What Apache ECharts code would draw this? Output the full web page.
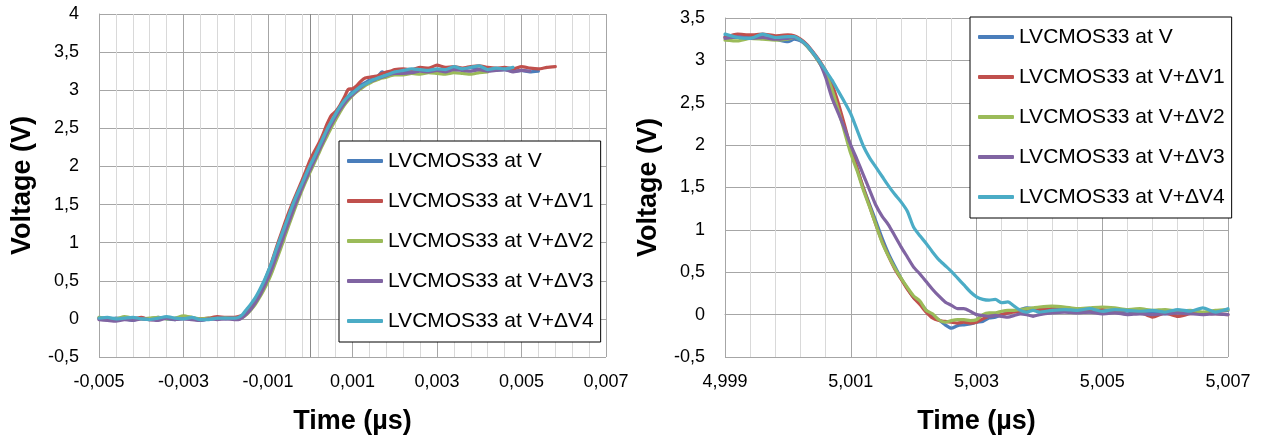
<!DOCTYPE html>
<html>
<head>
<meta charset="utf-8">
<script src="https://cdn.jsdelivr.net/npm/echarts@6/dist/echarts.min.js"></script>
<style>
  html, body { margin: 0; padding: 0; background: #fff; }
  #main { width: 1263px; height: 440px; }
</style>
</head>
<body>
<div id="main"></div>
<script>
// series names
var names = ['LVCMOS33 at V', 'LVCMOS33 at V+ΔV1', 'LVCMOS33 at V+ΔV2', 'LVCMOS33 at V+ΔV3', 'LVCMOS33 at V+ΔV4'];
var colors = ['#4A7EBB', '#C0504D', '#9BBB59', '#8064A2', '#4BACC6'];

// left chart: rising edge, time in µs
var leftTime = [
  -0.005, -0.0048, -0.0046, -0.0044, -0.0042, -0.004, -0.0038, -0.0036, -0.0034, -0.0032, -0.003, -0.0028, -0.0026, -0.0024, -0.0022, -0.002, -0.0018,
  -0.0017, -0.0016, -0.0015, -0.0014, -0.0013, -0.0012, -0.0011, -0.001, -0.0009, -0.0008, -0.0007, -0.0006, -0.0005, -0.0004, -0.0003, -0.0002, -0.0001,
  0, 0.0001, 0.0002, 0.0003, 0.0004, 0.0005, 0.0006, 0.0007, 0.0008, 0.0009, 0.001, 0.0011, 0.0012, 0.0013, 0.0014, 0.0015, 0.0016, 0.0017, 0.0018, 0.0019, 0.002,
  0.0022, 0.0024, 0.0026, 0.0028, 0.003, 0.0032, 0.0034, 0.0036, 0.0038, 0.004, 0.0042, 0.0044, 0.0046, 0.0048, 0.005, 0.0052, 0.0054, 0.0056, 0.0058
];
var leftV = [
  0.00, -0.01, 0.01, 0.00, -0.02, 0.01, 0.00, 0.02, 0.00, -0.01, 0.01, 0.00, -0.02, 0.00, 0.01, 0.00, 0.01,
  0.01, 0.04, 0.10, 0.17, 0.26, 0.36, 0.47, 0.60, 0.74, 0.89, 1.04, 1.19, 1.34, 1.49, 1.62, 1.75, 1.88,
  2.00, 2.12, 2.24, 2.36, 2.47, 2.58, 2.68, 2.77, 2.85, 2.92, 2.98, 3.03, 3.07, 3.10, 3.13, 3.15, 3.18, 3.24, 3.21, 3.23, 3.25,
  3.25, 3.26, 3.27, 3.28, 3.26, 3.29, 3.27, 3.28, 3.30, 3.27, 3.28, 3.26, 3.27, 3.25, 3.26, 3.24, 3.25
];
var leftV1 = [
  0.01, 0.00, -0.01, 0.01, 0.00, 0.02, -0.01, 0.00, 0.01, 0.00, 0.02, 0.01, 0.00, 0.01, 0.03, 0.02, 0.02,
  0.03, 0.05, 0.10, 0.17, 0.25, 0.35, 0.47, 0.61, 0.77, 0.94, 1.10, 1.26, 1.41, 1.55, 1.68, 1.81, 1.95,
  2.09, 2.20, 2.30, 2.42, 2.56, 2.67, 2.72, 2.80, 2.90, 3.01, 3.02, 3.06, 3.12, 3.16, 3.17, 3.18, 3.19, 3.22, 3.24, 3.25, 3.27,
  3.28, 3.27, 3.30, 3.29, 3.33, 3.30, 3.31, 3.29, 3.31, 3.32, 3.30, 3.29, 3.30, 3.28, 3.31, 3.29, 3.28, 3.30, 3.31
];
var leftV2 = [
  0.02, 0.01, 0.00, 0.03, 0.01, 0.00, 0.01, 0.02, 0.00, 0.01, 0.04, 0.02, 0.00, 0.01, 0.00, 0.01, 0.00,
  0.00, 0.02, 0.06, 0.12, 0.19, 0.28, 0.38, 0.49, 0.62, 0.77, 0.92, 1.08, 1.24, 1.39, 1.54, 1.68, 1.81,
  1.93, 2.05, 2.17, 2.29, 2.40, 2.51, 2.61, 2.71, 2.80, 2.87, 2.93, 2.98, 3.02, 3.06, 3.09, 3.12, 3.14, 3.16, 3.17, 3.19, 3.20,
  3.20, 3.22, 3.21, 3.23, 3.22, 3.21, 3.23, 3.22, 3.21, 3.23, 3.24
];
var leftV3 = [
  -0.01, -0.02, -0.03, -0.01, -0.02, 0.00, -0.01, -0.02, 0.01, -0.01, 0.00, -0.01, -0.02, 0.00, -0.01, 0.00, -0.01,
  -0.01, 0.02, 0.07, 0.13, 0.21, 0.30, 0.41, 0.53, 0.67, 0.82, 0.97, 1.13, 1.28, 1.43, 1.57, 1.71, 1.84,
  1.96, 2.08, 2.20, 2.32, 2.44, 2.55, 2.65, 2.74, 2.82, 2.89, 2.94, 2.99, 3.04, 3.08, 3.11, 3.13, 3.16, 3.17, 3.19, 3.21, 3.22,
  3.22, 3.23, 3.25, 3.24, 3.26, 3.24, 3.27, 3.26, 3.25, 3.27, 3.25, 3.26, 3.27, 3.24, 3.26, 3.25
];
var leftV4 = [
  0.01, 0.02, 0.00, 0.01, 0.02, 0.00, -0.01, 0.01, 0.03, 0.01, 0.00, 0.02, -0.01, -0.01, 0.01, 0.01, 0.01,
  0.02, 0.06, 0.13, 0.20, 0.28, 0.38, 0.49, 0.62, 0.76, 0.92, 1.07, 1.22, 1.37, 1.52, 1.65, 1.77, 1.90,
  2.02, 2.13, 2.25, 2.37, 2.49, 2.59, 2.69, 2.78, 2.86, 2.92, 2.96, 3.01, 3.05, 3.08, 3.11, 3.14, 3.16, 3.18, 3.20, 3.22, 3.24,
  3.26, 3.28, 3.27, 3.26, 3.28, 3.27, 3.31, 3.28, 3.30, 3.32, 3.27, 3.29, 3.28, 3.30
];

// right chart: falling edge, time in µs
var rightTime = [
  4.999, 4.9992, 4.9994, 4.9996, 4.9998, 5.0,
  5.0001, 5.0002, 5.0003, 5.0004, 5.0005, 5.0006, 5.0007, 5.0008, 5.0009, 5.0010,
  5.0011, 5.0012, 5.0013, 5.0014, 5.0015, 5.0016, 5.0017, 5.0018, 5.0019, 5.0020,
  5.0021, 5.0022, 5.0023, 5.0024, 5.0025, 5.0026, 5.0027, 5.0028, 5.0029, 5.0030,
  5.0031, 5.0032, 5.0033, 5.0034, 5.0035, 5.0036, 5.0037, 5.0038, 5.0039, 5.0040,
  5.0042, 5.0044, 5.0046, 5.0048, 5.0050, 5.0052, 5.0054, 5.0056, 5.0058, 5.0060, 5.0062, 5.0064, 5.0066, 5.0068, 5.0070
];
var rightV = [
  3.28, 3.27, 3.28, 3.27, 3.25, 3.22,
  3.25, 3.23, 3.17, 3.08, 2.98, 2.86, 2.69, 2.47, 2.21, 1.95,
  1.72, 1.50, 1.30, 1.10, 0.90, 0.72, 0.57, 0.43, 0.31, 0.20,
  0.14, 0.05, -0.01, -0.06, -0.12, -0.16, -0.13, -0.12, -0.11, -0.09,
  -0.08, -0.04, -0.03, 0.00, 0.02, 0.04, 0.06, 0.08, 0.07, 0.05,
  0.04, 0.05, 0.04, 0.03, 0.05, 0.03, 0.04, 0.02, 0.03, 0.01, 0.02, 0.03, 0.02, 0.04, 0.05
];
var rightV1 = [
  3.27, 3.31, 3.30, 3.31, 3.29, 3.30,
  3.29, 3.25, 3.19, 3.10, 3.00, 2.88, 2.72, 2.50, 2.24, 1.97,
  1.73, 1.49, 1.28, 1.06, 0.86, 0.69, 0.54, 0.42, 0.30, 0.20,
  0.12, 0.03, -0.04, -0.07, -0.08, -0.09, -0.10, -0.09, -0.10, -0.09,
  -0.05, -0.02, -0.01, 0.00, 0.02, 0.03, 0.04, 0.05, 0.05, 0.06,
  0.07, 0.08, 0.06, 0.05, 0.06, 0.04, 0.05, 0.03, -0.03, 0.02, -0.02, 0.01, 0.02, 0.01, 0.00
];
var rightV2 = [
  3.24, 3.23, 3.26, 3.25, 3.24, 3.25,
  3.27, 3.24, 3.17, 3.08, 2.97, 2.85, 2.66, 2.42, 2.16, 1.90,
  1.70, 1.47, 1.27, 1.06, 0.85, 0.69, 0.55, 0.43, 0.32, 0.22,
  0.16, 0.05, 0.01, -0.06, -0.09, -0.07, -0.06, -0.06, -0.07, -0.06,
  0.00, 0.02, 0.02, 0.04, 0.05, 0.05, 0.06, 0.07, 0.08, 0.09,
  0.10, 0.09, 0.07, 0.08, 0.09, 0.08, 0.06, 0.07, 0.05, 0.06, 0.04, 0.05, 0.03, 0.05, 0.06
];
var rightV3 = [
  3.26, 3.28, 3.26, 3.27, 3.25, 3.26,
  3.27, 3.24, 3.18, 3.09, 2.98, 2.80, 2.56, 2.38, 2.20, 2.00,
  1.83, 1.65, 1.47, 1.29, 1.16, 1.06, 0.93, 0.80, 0.68, 0.56,
  0.48, 0.39, 0.30, 0.22, 0.15, 0.11, 0.07, 0.07, 0.04, 0.00,
  -0.01, -0.02, -0.01, -0.02, -0.03, -0.01, 0.01, 0.00, -0.02, 0.00,
  0.02, 0.03, 0.02, 0.03, 0.01, 0.02, 0.00, 0.01, 0.00, 0.01, 0.02, 0.01, 0.00, 0.01, 0.00
];
var rightV4 = [
  3.31, 3.27, 3.26, 3.31, 3.27, 3.28,
  3.28, 3.24, 3.18, 3.09, 2.99, 2.88, 2.77, 2.64, 2.51, 2.37,
  2.18, 1.99, 1.85, 1.74, 1.63, 1.52, 1.42, 1.33, 1.22, 1.03,
  0.93, 0.84, 0.74, 0.65, 0.58, 0.51, 0.43, 0.35, 0.27, 0.21,
  0.18, 0.17, 0.18, 0.14, 0.15, 0.10, 0.05, 0.03, 0.05, 0.03,
  0.05, 0.06, 0.05, 0.07, 0.04, 0.06, 0.05, 0.04, 0.05, 0.03, 0.06, 0.04, 0.08, 0.03, 0.07
];

var leftT0 = -0.005;   // left axis starts here
var rightT0 = 4.999;   // right axis starts here

var leftValues = [leftV, leftV1, leftV2, leftV3, leftV4];
var rightValues = [rightV, rightV1, rightV2, rightV3, rightV4];

var fontFam = '"Liberation Sans", Arial, sans-serif';

// x axis runs in ns from the axis start, so ticks begin at min
function toPairs(time, vals, t0) {
  return vals.map(function (v, i) { return [(time[i] - t0) * 1000, v]; });
}
function xLabel(t0) {
  return function (v) { return (v / 1000 + t0).toFixed(3).replace('.', ','); };
}
function yLabel(v) { return String(v).replace('.', ','); }

function xAxisOf(idx, t0, max) {
  return {
    type: 'value', gridIndex: idx, min: 0, max: max, interval: 2,
    axisLine: { show: true, lineStyle: { color: '#a6a6a6', width: 1 } },
    axisTick: { show: false },
    axisLabel: { formatter: xLabel(t0), color: '#000', fontSize: 18, margin: 16, fontFamily: fontFam },
    splitLine: { show: true, lineStyle: { color: '#a6a6a6', width: 1 } },
    minorTick: { show: false, splitNumber: 5 },
    minorSplitLine: { show: true, lineStyle: { color: '#d9d9d9', width: 1 } },
    name: 'Time (µs)', nameLocation: 'middle', nameGap: 51,
    nameTextStyle: { color: '#000', fontSize: 27, fontWeight: 'bold', fontFamily: fontFam }
  };
}
function yAxisOf(idx, max) {
  return {
    type: 'value', gridIndex: idx, min: -0.5, max: max, interval: 0.5,
    axisLine: { show: true, lineStyle: { color: '#a6a6a6', width: 1 } },
    axisTick: { show: false },
    axisLabel: { formatter: yLabel, color: '#000', fontSize: 18, margin: 20, fontFamily: fontFam },
    splitLine: { show: true, lineStyle: { color: '#a6a6a6', width: 1 } },
    name: 'Voltage (V)', nameLocation: 'middle', nameGap: 63,
    nameTextStyle: { color: '#000', fontSize: 27, fontWeight: 'bold', fontFamily: fontFam }
  };
}
function legendOf(left, top) {
  return {
    data: names, orient: 'vertical', left: left, top: top,
    icon: 'roundRect', itemWidth: 36, itemHeight: 4, itemGap: 16,
    padding: [8, 7, 9, 8],
    backgroundColor: '#fff', borderColor: '#000', borderWidth: 1, borderRadius: 0,
    textStyle: { color: '#000', fontSize: 21, lineHeight: 24, fontFamily: fontFam },
    selectedMode: false
  };
}

var series = [];
// vertical axis line of the left chart crosses at t = 0
series.push({
  name: 'axis0', type: 'line', xAxisIndex: 0, yAxisIndex: 0, data: [], silent: true, z: 1,
  markLine: {
    silent: true, symbol: 'none', z: 1, animation: false,
    label: { show: false },
    lineStyle: { color: '#8a8a8a', type: 'solid', width: 1 },
    data: [{ xAxis: (0 - leftT0) * 1000 }]
  }
});
leftValues.forEach(function (vals, i) {
  series.push({
    name: names[i], type: 'line', xAxisIndex: 0, yAxisIndex: 0,
    data: toPairs(leftTime, vals, leftT0),
    showSymbol: false, smooth: 0.2, color: colors[i],
    lineStyle: { width: 3.2, color: colors[i], cap: 'round', join: 'round' }
  });
});
rightValues.forEach(function (vals, i) {
  series.push({
    name: names[i], type: 'line', xAxisIndex: 1, yAxisIndex: 1,
    data: toPairs(rightTime, vals, rightT0),
    showSymbol: false, smooth: 0.2, color: colors[i],
    lineStyle: { width: 3.2, color: colors[i], cap: 'round', join: 'round' }
  });
});

var chart = echarts.init(document.getElementById('main'));
chart.setOption({
  animation: false,
  backgroundColor: '#fff',
  grid: [
    { left: 99, top: 14, width: 507, height: 343 },
    { left: 725, top: 18, width: 503, height: 339 }
  ],
  xAxis: [xAxisOf(0, leftT0, 12), xAxisOf(1, rightT0, 8)],
  yAxis: [yAxisOf(0, 4), yAxisOf(1, 3.5)],
  legend: [legendOf(339, 141), legendOf(970, 17)],
  series: series
});
</script>
</body>
</html>
